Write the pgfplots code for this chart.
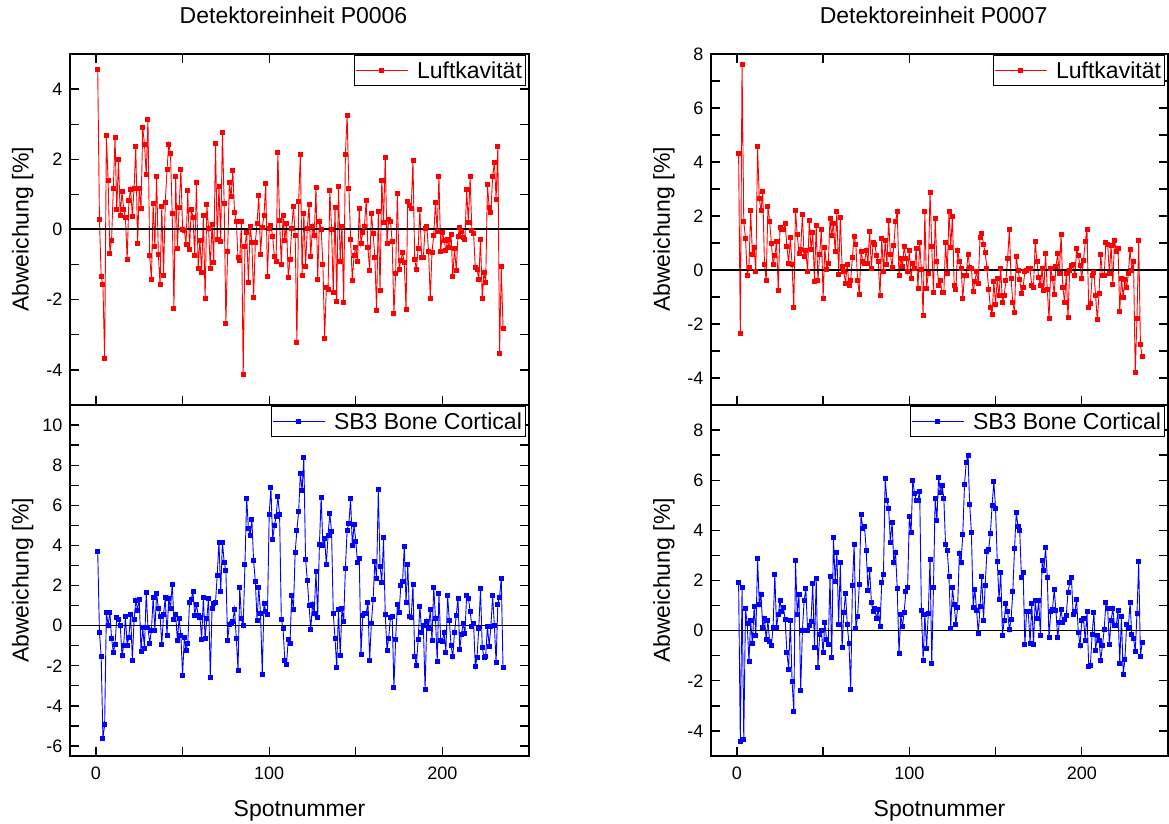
\documentclass[border=0pt]{standalone}
\usepackage{fontspec}
\setmainfont{Liberation Sans}
\usepackage{pgfplots}
\pgfplotsset{compat=1.18}
\usepackage{pgfplotstable}

% n: Spotnummer, A/B: P0006 (Luft, SB3), C/D: P0007 (Luft, SB3)
\pgfplotstableread{
n A B C D
1 4.57 3.70 4.31 1.92
2 0.30 -0.32 -2.36 -4.41
3 -1.35 -1.52 7.63 1.73
4 -1.57 -5.62 1.80 -4.33
5 -3.67 -4.95 1.17 0.87
6 2.68 0.68 -0.21 0.28
7 1.40 0.00 0.11 -1.23
8 -0.67 0.68 2.19 0.39
9 -0.31 -0.62 0.57 -0.52
10 1.16 -1.33 0.85 0.95
11 2.61 -0.93 -0.04 -0.20
12 0.56 0.42 4.56 2.89
13 1.99 0.33 2.64 1.05
14 0.40 0.02 2.20 1.43
15 1.07 -1.48 2.90 0.13
16 0.58 -0.98 0.21 0.48
17 0.33 0.45 -0.40 -0.36
18 -0.84 -0.97 2.35 0.39
19 0.82 -0.57 1.80 -0.44
20 1.15 0.58 1.00 -0.59
21 0.38 -1.73 0.21 0.13
22 1.18 0.30 0.53 2.25
23 2.36 1.28 1.04 0.12
24 -0.41 0.77 -0.74 0.64
25 1.18 1.33 1.56 1.19
26 0.60 -1.30 1.51 0.75
27 2.90 -0.10 1.49 0.93
28 2.43 -1.13 1.73 0.44
29 1.56 1.67 0.86 -0.85
30 3.14 -0.10 0.26 -1.53
31 -0.75 -0.88 1.21 0.41
32 -1.42 -0.25 0.19 -2.01
33 0.73 1.40 -1.40 -3.23
34 -0.49 -0.23 2.20 2.81
35 1.52 1.60 1.31 0.65
36 -0.71 0.88 0.63 1.43
37 -1.57 0.47 0.77 -2.39
38 0.66 -0.92 2.07 0.00
39 -1.30 0.55 0.49 1.21
40 0.77 1.40 0.72 1.67
41 1.70 -0.48 -0.06 0.00
42 2.43 1.35 1.85 0.19
43 2.17 0.85 0.77 0.37
44 0.47 2.07 1.38 1.87
45 -2.24 0.33 -0.42 -0.69
46 1.50 0.55 1.65 2.09
47 -0.53 -0.73 -0.40 -1.45
48 0.62 0.37 0.59 -0.16
49 1.71 -0.48 1.51 0.00
50 0.00 -2.48 -1.06 -0.88
51 -0.03 -0.60 0.83 0.33
52 -0.42 -1.22 0.02 -0.35
53 1.10 -0.90 0.23 -0.57
54 -0.58 1.17 1.90 2.16
55 0.58 1.32 1.27 -1.05
56 0.35 1.68 1.74 3.71
57 -0.75 0.53 0.67 1.96
58 1.35 1.05 2.17 3.13
59 -1.12 0.53 -0.16 0.25
60 -0.30 0.42 1.96 2.71
61 -1.21 -0.67 0.12 -0.68
62 0.41 1.42 -0.05 0.71
63 -1.97 -0.65 -0.48 1.49
64 0.70 0.37 0.21 0.25
65 0.03 1.38 -0.59 -0.53
66 -1.11 -2.57 -0.38 -2.35
67 0.15 0.85 0.46 1.79
68 -0.94 1.10 1.26 3.44
69 2.44 1.15 0.93 0.07
70 -0.29 2.52 -0.38 0.57
71 1.22 4.17 -0.89 1.84
72 -0.33 1.68 0.70 4.64
73 2.77 4.17 0.31 4.08
74 0.74 3.17 0.25 4.16
75 -2.67 2.73 0.74 3.21
76 -0.63 -0.75 0.26 1.61
77 1.34 0.08 1.44 2.43
78 0.94 0.10 0.05 1.12
79 1.67 0.23 1.02 0.76
80 0.48 0.83 0.95 0.88
81 0.24 -0.62 0.53 0.48
82 -0.80 -2.22 0.30 0.85
83 -0.88 1.90 -0.96 0.16
84 0.24 0.35 1.16 1.93
85 -4.12 0.00 -0.06 2.24
86 -0.48 3.03 1.10 6.09
87 -0.08 6.35 0.20 5.20
88 -1.50 4.85 1.85 4.88
89 0.10 4.50 0.58 3.53
90 -0.38 5.28 0.11 4.33
91 -1.94 3.23 0.90 2.72
92 -0.37 2.20 1.81 3.11
93 0.18 0.28 2.16 1.67
94 0.97 1.90 -0.22 -0.92
95 -0.70 0.60 0.44 0.63
96 0.07 -2.42 0.14 0.17
97 0.39 1.12 0.88 0.72
98 1.30 0.73 0.44 1.57
99 -1.33 0.57 -0.06 1.71
100 0.02 5.55 0.72 4.55
101 0.12 6.88 -0.30 3.91
102 -0.20 4.28 0.25 6.01
103 -0.77 4.98 0.07 5.48
104 -0.90 5.43 0.78 5.20
105 2.19 6.43 -0.69 5.19
106 0.27 5.55 1.01 5.57
107 -0.99 0.32 0.01 0.80
108 0.40 -0.13 -1.69 -1.19
109 -0.30 -1.72 2.15 0.64
110 0.18 -1.92 -0.68 -0.72
111 -1.37 -0.70 -0.12 0.69
112 -0.85 -0.90 2.88 2.85
113 0.03 1.50 0.88 -1.29
114 0.67 0.82 -0.84 1.73
115 -0.16 3.65 1.90 5.29
116 -3.22 4.77 0.30 4.40
117 0.79 5.68 -0.59 6.13
118 2.14 7.60 -0.38 5.52
119 -1.30 6.72 -0.85 5.79
120 0.47 8.38 -0.85 5.29
121 -1.04 3.32 1.01 3.44
122 0.03 2.27 -0.14 3.21
123 0.70 1.02 2.16 2.15
124 -0.76 -0.20 0.85 0.07
125 0.10 1.08 2.00 1.73
126 -0.17 0.63 -0.59 1.04
127 1.21 2.68 -0.73 0.23
128 -1.42 0.43 0.73 0.93
129 0.24 4.05 0.33 3.09
130 0.01 6.40 0.07 2.72
131 -0.99 4.00 -1.04 3.85
132 -3.10 4.33 -0.22 5.84
133 -1.64 3.03 -0.20 6.71
134 -1.72 4.52 0.58 6.99
135 1.10 5.57 0.11 5.03
136 0.00 4.70 0.07 3.91
137 -1.79 0.60 -0.81 0.93
138 0.63 -0.62 -0.41 1.65
139 -2.05 -2.10 -0.07 0.81
140 1.22 0.82 -0.49 -0.13
141 -0.90 -1.50 1.22 0.96
142 0.10 0.88 1.37 2.17
143 -2.09 0.20 0.96 0.41
144 2.14 2.87 0.64 1.81
145 3.25 4.77 0.07 3.15
146 1.18 5.08 -0.72 3.24
147 -0.29 6.33 -1.40 3.87
148 -1.45 3.98 -1.64 5.00
149 -0.73 5.03 -0.44 5.95
150 -0.51 4.20 -1.27 4.87
151 -0.90 3.15 -0.32 2.77
152 0.59 3.33 -0.96 1.25
153 -0.41 -1.42 0.05 2.31
154 -0.09 0.50 -1.22 -0.19
155 0.10 0.60 -0.93 0.41
156 0.82 0.60 -0.40 1.08
157 -0.52 1.17 0.42 0.76
158 -1.17 -1.72 1.49 0.04
159 0.46 0.12 -0.30 0.43
160 -0.10 1.30 -1.21 1.55
161 -0.79 3.20 -1.56 3.27
162 -2.31 2.35 0.52 4.72
163 0.50 6.78 -0.01 4.16
164 -1.75 2.97 -0.35 4.00
165 1.41 2.15 -0.88 2.13
166 0.19 4.38 -0.65 2.33
167 2.06 0.58 -0.04 -0.57
168 -0.39 -1.22 -0.01 0.77
169 0.29 -0.62 0.04 0.76
170 0.24 0.42 0.04 -0.51
171 -0.35 0.47 -0.57 1.07
172 -2.40 -3.10 -0.65 -0.55
173 -1.24 -0.68 1.07 1.20
174 1.04 1.05 0.31 0.49
175 -1.13 0.68 -0.27 1.21
176 -0.88 1.98 -0.58 -0.19
177 -0.66 2.20 0.04 2.79
178 -0.95 3.97 -0.75 2.40
179 -2.28 1.15 0.63 3.32
180 0.79 3.05 -0.73 2.11
181 0.69 0.48 -1.81 -0.29
182 0.61 0.43 0.04 0.76
183 1.96 2.03 -0.30 0.83
184 -0.86 -1.52 -0.90 1.63
185 -1.15 -1.98 0.12 0.81
186 -0.54 -0.70 0.60 -0.29
187 0.56 0.97 -0.14 0.32
188 -0.79 -0.33 1.32 0.83
189 -0.80 0.00 -0.63 0.32
190 0.02 -3.20 -1.19 0.43
191 0.10 0.23 -0.14 0.61
192 -0.62 -0.12 -1.77 1.52
193 -1.97 0.80 0.00 1.91
194 -0.64 -0.75 0.15 2.11
195 -0.16 1.92 0.19 0.64
196 0.78 0.38 -0.22 0.75
197 -0.05 -1.77 0.79 1.25
198 1.50 1.60 0.53 -0.08
199 -0.62 -0.72 0.15 -0.59
200 -0.09 -0.77 -0.30 0.40
201 -0.30 -0.33 0.36 0.49
202 -0.60 -1.32 1.04 -0.41
203 -0.29 1.48 1.51 0.77
204 -0.50 0.25 -1.37 -1.41
205 -0.14 -1.00 -1.25 -1.37
206 -1.35 -1.55 -0.20 -0.15
207 -0.53 -0.35 -0.09 0.72
208 -1.16 0.53 -0.95 -0.79
209 -0.19 1.35 -1.85 -0.20
210 0.06 -1.20 -0.88 -0.39
211 -0.05 -0.42 0.58 -1.17
212 -0.24 0.10 -0.22 -0.59
213 -0.28 -0.37 -0.22 0.05
214 1.13 1.48 1.01 1.13
215 0.20 1.37 0.96 0.88
216 1.50 0.73 -0.14 -0.57
217 -0.03 -0.02 0.91 0.40
218 -0.11 0.12 -0.52 0.88
219 -1.09 -2.05 1.10 0.20
220 -1.13 -1.57 0.67 0.20
221 -1.42 -0.12 0.80 0.81
222 -0.28 1.83 -1.52 -1.29
223 -1.97 -1.07 -0.30 0.55
224 -1.21 -1.60 -1.00 -1.73
225 -1.51 -1.52 -0.36 -1.16
226 1.27 -0.03 -0.65 0.23
227 0.64 -1.02 -0.14 0.11
228 0.48 -0.02 0.77 1.13
229 1.52 1.48 -0.01 -0.17
230 1.90 0.02 0.33 -0.31
231 0.87 -1.85 -3.81 -0.84
232 2.36 1.08 -1.78 0.68
233 -3.53 1.42 1.11 2.75
234 -1.06 2.37 -2.75 -1.04
235 -2.81 -2.10 -3.22 -0.47
}\spots

\pgfplotsset{
  panel/.style={
    scale only axis, height=351pt,
    xmin=-15, xmax=250,
    axis line style={line width=1.5pt},
    tick style={black, line width=1.3pt},
    tick align=inside, major tick length=9pt, minor tick length=9pt,
    xtick={0,100,200}, minor xtick={50,150}, minor y tick num=1,
    /pgf/number format/assume math mode=true,
    tick label style={font=\fontsize{18}{20}\selectfont},
    yticklabel style={xshift=-4pt},
    xticklabel style={yshift=-7pt},
    label style={font=\fontsize{23}{26}\selectfont},
    ylabel={Abweichung [\%]},
    ylabel style={at={(axis description cs:-0.103,0.5)}, anchor=center},
    legend style={at={(axis description cs:0.992,0.997)}, anchor=north east,
      draw=black, line width=0.8pt, font=\fontsize{23}{26}\selectfont,
      inner xsep=1pt, inner ysep=4pt},
    legend image code/.code={%
      \draw[mark repeat=2,mark phase=2,#1]
        plot coordinates {(0pt,0pt) (26pt,0pt) (52pt,0pt)};},
  },
  toprow/.style={panel, xticklabels={},
    title style={at={(axis description cs:0.487,1)}, anchor=base, yshift=24pt,
      font=\fontsize{23}{26}\selectfont}},
  bottomrow/.style={panel, xtick pos=bottom, xlabel={Spotnummer},
    xlabel style={at={(axis description cs:0.5,0)}, anchor=base, yshift=-60pt}},
  luft/.style={red, line width=0.9pt, mark=square*, mark size=2pt},
  bone/.style={blue, line width=0.9pt, mark=square*, mark size=2pt},
}

\begin{document}
\begin{tikzpicture}
\useasboundingbox (0,0) rectangle (1169pt,823pt);

\begin{axis}[toprow, at={(70pt,418pt)}, anchor=south west, width=459pt,
  ymin=-5, ymax=5, ytick={-4,-2,...,4}, title={Detektoreinheit P0006}]
\addplot[luft] table[x=n, y=A] {\spots};
\addplot[black, line width=2pt, forget plot] coordinates {(-15,0) (250,0)};
\legend{\hspace{7pt}Luftkavität}
\end{axis}

\begin{axis}[bottomrow, at={(70pt,67pt)}, anchor=south west, width=459pt,
  ymin=-6.5, ymax=11, ytick={-6,-4,...,10}]
\addplot[bone] table[x=n, y=B] {\spots};
\addplot[black, line width=1.5pt, forget plot] coordinates {(-15,0) (250,0)};
\legend{\hspace{7pt}SB3 Bone Cortical}
\end{axis}

\begin{axis}[toprow, at={(711pt,418pt)}, anchor=south west, width=457pt,
  ymin=-5, ymax=8, ytick={-4,-2,...,8}, title={Detektoreinheit P0007}]
\addplot[luft] table[x=n, y=C] {\spots};
\addplot[black, line width=2pt, forget plot] coordinates {(-15,0) (250,0)};
\legend{\hspace{7pt}Luftkavität}
\end{axis}

\begin{axis}[bottomrow, at={(711pt,67pt)}, anchor=south west, width=457pt,
  ymin=-5, ymax=9, ytick={-4,-2,...,8}]
\addplot[bone] table[x=n, y=D] {\spots};
\addplot[black, line width=1.5pt, forget plot] coordinates {(-15,0) (250,0)};
\legend{\hspace{7pt}SB3 Bone Cortical}
\end{axis}

\end{tikzpicture}
\end{document}
